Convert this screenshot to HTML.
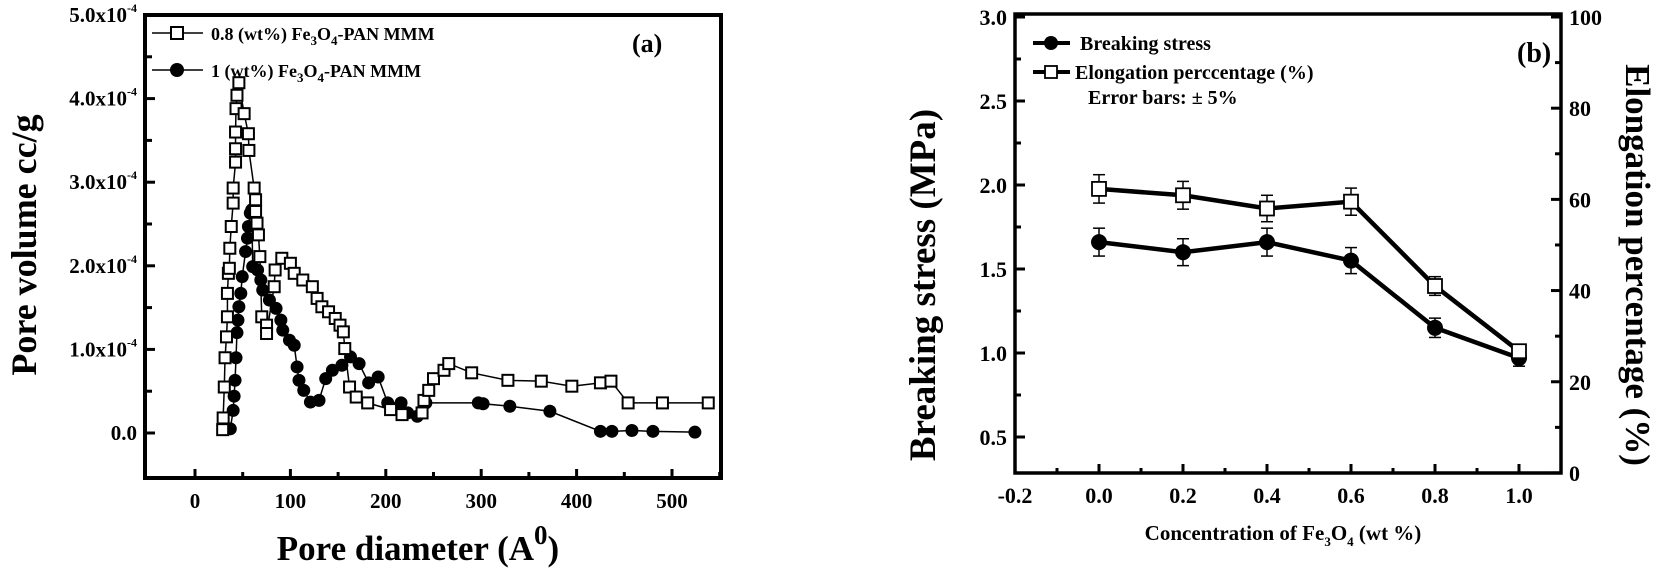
<!DOCTYPE html>
<html><head><meta charset="utf-8"><style>
body{margin:0;background:#fff;}
svg{display:block;font-family:"Liberation Serif",serif;font-weight:bold;}
</style></head><body>
<svg id="s" width="1654" height="573" viewBox="0 0 1654 573" xmlns="http://www.w3.org/2000/svg"></svg>
<script>
// ---- Chart (a) data ----
const aSqX=[29,29.5,30.7,31.5,33,34,34,35,36,36.5,38,40,40,42.5,42.5,42.5,43,44,46,51.5,56,56.5,62,63.5,63.5,65,66.5,68,70,75,75,83,84,91,100,104,113,123,128,133,140,147,152,155.5,157,162,169,181,205,217,238,240,245,250,261,266,290,328,363,395,425,436,454,490,538];
const aSqY=[0.04,0.18,0.55,0.9,1.15,1.39,1.67,1.91,1.97,2.21,2.47,2.75,2.93,3.24,3.4,3.6,3.88,4.04,4.19,3.82,3.58,3.38,2.93,2.79,2.65,2.51,2.37,2.11,1.39,1.29,1.19,1.75,1.95,2.09,2.03,1.91,1.83,1.75,1.61,1.51,1.45,1.37,1.29,1.21,1.01,0.55,0.43,0.36,0.28,0.22,0.24,0.39,0.51,0.65,0.75,0.83,0.72,0.63,0.62,0.56,0.6,0.62,0.36,0.36,0.36];
const aCiX=[37,40,41,42,43,44,45,46,48,49.5,53,55,56,58,59.5,60.5,65.6,69,71,78,85,90,92,99,104,107,109,114,121,130,137,144,154,163,172,182,192,202,216,223,233,242,297,302,330,372,425,437,458,480,524];
const aCiY=[0.05,0.27,0.44,0.63,0.9,1.2,1.35,1.51,1.67,1.87,2.17,2.33,2.47,2.63,2.67,1.99,1.95,1.83,1.71,1.59,1.49,1.35,1.23,1.11,1.05,0.79,0.63,0.51,0.37,0.39,0.65,0.75,0.81,0.91,0.83,0.6,0.67,0.36,0.36,0.24,0.2,0.36,0.36,0.35,0.32,0.26,0.02,0.02,0.03,0.02,0.01];
const aXTicks=[0,100,200,300,400,500];
const aYTicks=[0,1,2,3,4,5];
// ---- Chart (b) data ----
const bX=[0,0.2,0.4,0.6,0.8,1.0];
const bStress=[1.66,1.60,1.66,1.55,1.15,0.97];
const bElong=[62.3,60.9,58.0,59.5,41.0,26.7];
const bXTicks=["-0.2","0.0","0.2","0.4","0.6","0.8","1.0"];
const bYTicks=["0.5","1.0","1.5","2.0","2.5","3.0"];
const bRTicks=["0","20","40","60","80","100"];

const NS="http://www.w3.org/2000/svg";
const S=document.getElementById('s');
function el(t,a,p){const e=document.createElementNS(NS,t);for(const k in a)e.setAttribute(k,a[k]);(p||S).appendChild(e);return e;}
function txt(s,a,p){const e=el('text',a,p);e.textContent=s;return e;}

// axes a
const ax=v=>195+v*0.954, ay=v=>433-v*83.6;
const ga=el('g',{});


let f=el('rect',{x:145,y:15,width:576,height:463,fill:'none',stroke:'#000','stroke-width':4},ga);

aXTicks.forEach(v=>{el('line',{x1:ax(v),x2:ax(v),y1:478,y2:469,stroke:'#000','stroke-width':3},ga);
 const t=txt(String(v),{x:ax(v),y:508,'text-anchor':'middle','font-size':21},ga);
 
 el('line',{x1:ax(v+50),x2:ax(v+50),y1:478,y2:472,stroke:'#000','stroke-width':3},ga);});
aYTicks.forEach(v=>{el('line',{x1:145,x2:155,y1:ay(v),y2:ay(v),stroke:'#000','stroke-width':3},ga);
 el('line',{x1:145,x2:152,y1:ay(v+0.5),y2:ay(v+0.5),stroke:'#000','stroke-width':3},ga);
 const t=el('text',{x:137,y:ay(v)+7,'text-anchor':'end','font-size':21},ga);
 
 if(v===0)t.textContent='0.0';else{t.textContent=v+'.0x10';const sp=el('tspan',{dy:-10,'font-size':12},t);sp.textContent='-4';}});
let yt=txt('Pore volume cc/g',{x:0,y:0,transform:'translate(36,245) rotate(-90)','text-anchor':'middle','font-size':36},ga);

let xt=el('text',{x:418,y:560,'text-anchor':'middle','font-size':35},ga);

xt.textContent='Pore diameter (A';let sup=el('tspan',{dy:-16,'font-size':27},xt);sup.textContent='0';let cl=el('tspan',{dy:16},xt);cl.textContent=')';
let lab=txt('(a)',{x:632,y:52,'font-size':26},ga);
// series a
el('polyline',{points:aCiX.map((x,i)=>ax(x)+','+ay(aCiY[i])).join(' '),fill:'none',stroke:'#000','stroke-width':1.5},ga);
el('polyline',{points:aSqX.map((x,i)=>ax(x)+','+ay(aSqY[i])).join(' '),fill:'none',stroke:'#000','stroke-width':1.5},ga);
aCiX.forEach((x,i)=>{const c=el('circle',{cx:ax(x),cy:ay(aCiY[i]),r:6.5,fill:'#000'},ga);
 });
aSqX.forEach((x,i)=>{const r=el('rect',{x:ax(x)-5.5,y:ay(aSqY[i])-5.5,width:11,height:11,fill:'#fff',stroke:'#000','stroke-width':2},ga);
 });
// legend a
let lg=el('g',{},ga);
el('line',{x1:152,x2:203,y1:33,y2:33,stroke:'#000','stroke-width':1.5},lg);
el('rect',{x:171,y:27,width:12,height:12,fill:'#fff',stroke:'#000','stroke-width':2},lg);
let l1=el('text',{x:211,y:40,'font-size':18},lg);l1.textContent='0.8 (wt%) Fe';let s1=el('tspan',{dy:5,'font-size':13},l1);s1.textContent='3';let s2=el('tspan',{dy:-5},l1);s2.textContent='O';let s3=el('tspan',{dy:5,'font-size':13},l1);s3.textContent='4';let s4=el('tspan',{dy:-5},l1);s4.textContent='-PAN MMM';
el('line',{x1:152,x2:203,y1:70,y2:70,stroke:'#000','stroke-width':1.5},lg);
el('circle',{cx:177,cy:70,r:7,fill:'#000'},lg);
let l2=el('text',{x:211,y:77,'font-size':18},lg);l2.textContent='1 (wt%)  Fe';let t1=el('tspan',{dy:5,'font-size':13},l2);t1.textContent='3';let t2=el('tspan',{dy:-5},l2);t2.textContent='O';let t3=el('tspan',{dy:5,'font-size':13},l2);t3.textContent='4';let t4=el('tspan',{dy:-5},l2);t4.textContent='-PAN MMM';

// chart b
const bx=v=>1099+v*420, by=v=>437-(v-0.5)*168, br=p=>by(0.286+p/100*2.714);
const gb=el('g',{});
let fb=el('rect',{x:1015,y:14,width:546,height:459,fill:'none',stroke:'#000','stroke-width':3.5},gb);

bXTicks.forEach(s=>{const v=parseFloat(s);
 if(v>-0.2)el('line',{x1:bx(v),x2:bx(v),y1:473,y2:464,stroke:'#000','stroke-width':3},gb);
 el('line',{x1:bx(v+0.1),x2:bx(v+0.1),y1:473,y2:468,stroke:'#000','stroke-width':3},gb);
 const t=txt(s,{x:bx(v),y:503,'text-anchor':'middle','font-size':22},gb);});
bYTicks.forEach(s=>{const v=parseFloat(s);
 el('line',{x1:1015,x2:1025,y1:by(v),y2:by(v),stroke:'#000','stroke-width':3},gb);
 if(v<3)el('line',{x1:1015,x2:1021,y1:by(v+0.25),y2:by(v+0.25),stroke:'#000','stroke-width':3},gb);
 const t=txt(s,{x:1007,y:by(v)+8,'text-anchor':'end','font-size':22},gb);});
bRTicks.forEach(s=>{const v=parseFloat(s);
 el('line',{x1:1561,x2:1551,y1:br(v),y2:br(v),stroke:'#000','stroke-width':3},gb);
 if(v<100)el('line',{x1:1561,x2:1555,y1:br(v+10),y2:br(v+10),stroke:'#000','stroke-width':3},gb);
 const t=txt(s,{x:1569,y:br(v)+8,'font-size':22},gb);});
let ybt=txt('Breaking stress (MPa)',{x:0,y:0,transform:'translate(935,285) rotate(-90)','text-anchor':'middle','font-size':37},gb);

let yrt=txt('Elongation percentage (%)',{x:0,y:0,transform:'translate(1626,265) rotate(90)','text-anchor':'middle','font-size':35},gb);

let xbt=el('text',{x:1283,y:540,'text-anchor':'middle','font-size':21},gb);
xbt.textContent='Concentration of Fe';let u1=el('tspan',{dy:6,'font-size':13},xbt);u1.textContent='3';let u2=el('tspan',{dy:-6},xbt);u2.textContent='O';let u3=el('tspan',{dy:6,'font-size':13},xbt);u3.textContent='4';let u4=el('tspan',{dy:-6},xbt);u4.textContent=' (wt %)';
let lb=txt('(b)',{x:1517,y:62,'font-size':28},gb);
el('polyline',{points:bX.map((x,i)=>bx(x)+','+by(bStress[i])).join(' '),fill:'none',stroke:'#000','stroke-width':4.5},gb);
el('polyline',{points:bX.map((x,i)=>bx(x)+','+br(bElong[i])).join(' '),fill:'none',stroke:'#000','stroke-width':4.5},gb);
function ebar(x,y1,y2){el('line',{x1:x,x2:x,y1:y1,y2:y2,stroke:'#000','stroke-width':1.5},gb);
 el('line',{x1:x-6,x2:x+6,y1:y1,y2:y1,stroke:'#000','stroke-width':1.5},gb);el('line',{x1:x-6,x2:x+6,y1:y2,y2:y2,stroke:'#000','stroke-width':1.5},gb);}
bX.forEach((x,i)=>{const v=bStress[i];ebar(bx(x),by(v*1.05),by(v*0.95));
 const c=el('circle',{cx:bx(x),cy:by(v),r:8,fill:'#000'},gb);});
bX.forEach((x,i)=>{const p=bElong[i];ebar(bx(x),br(p*1.05),br(p*0.95));
 const r=el('rect',{x:bx(x)-7,y:br(p)-7,width:14,height:14,fill:'#fff',stroke:'#000','stroke-width':1.8},gb);});
let lgb=el('g',{},gb);
el('line',{x1:1033,x2:1070,y1:43,y2:43,stroke:'#000','stroke-width':4},lgb);
el('circle',{cx:1051,cy:43,r:7,fill:'#000'},lgb);
txt('Breaking stress',{x:1080,y:50,'font-size':20},lgb);
el('line',{x1:1033,x2:1070,y1:72,y2:72,stroke:'#000','stroke-width':4},lgb);
el('rect',{x:1045,y:66,width:12,height:12,fill:'#fff',stroke:'#000','stroke-width':1.8},lgb);
txt('Elongation perccentage (%)',{x:1075,y:79,'font-size':20},lgb);
txt('Error bars: \u00b1 5%',{x:1088,y:104,'font-size':20},lgb);
</script>
</body></html>
